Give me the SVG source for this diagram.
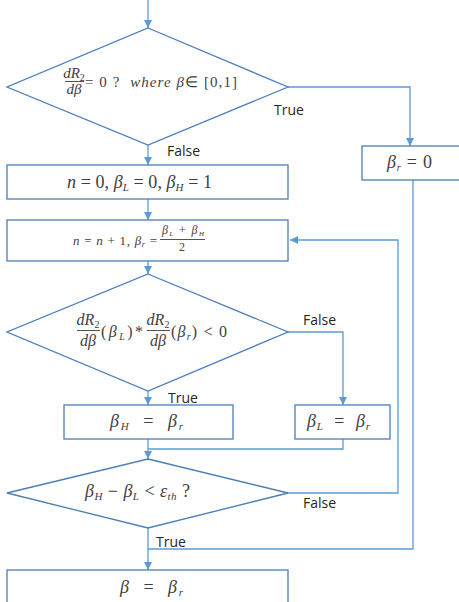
<svg xmlns="http://www.w3.org/2000/svg" width="459" height="602" viewBox="0 0 459 602">
<style>
.shape{fill:#fff;stroke:#4a7ebb;stroke-width:1.3}
.conn{fill:none;stroke:#5b9bd5;stroke-width:1.3}
.m{font-family:"Liberation Serif",serif;fill:#404040;white-space:pre}
.i{font-style:italic}
.lbl{font-family:"Open Sans","Liberation Sans",sans-serif;font-size:14px;fill:#262626}
.bar{stroke:#404040;stroke-width:0.9}
</style>
<defs>
<marker id="ah" viewBox="0 0 10 10" refX="10" refY="5" markerWidth="8" markerHeight="8" markerUnits="userSpaceOnUse" orient="auto">
<path d="M0,0 L10,5 L0,10 z" fill="#5b9bd5"/>
</marker>
</defs>
<rect width="459" height="602" fill="#fff"/>
<g id="connectors">
<path class="conn" d="M148,0 V28" marker-end="url(#ah)"/>
<path class="conn" d="M288,87 H410 V146" marker-end="url(#ah)"/>
<path class="conn" d="M148,145 V165" marker-end="url(#ah)"/>
<path class="conn" d="M148,199 V220" marker-end="url(#ah)"/>
<path class="conn" d="M148,261 V274" marker-end="url(#ah)"/>
<path class="conn" d="M288,332 H343 V405" marker-end="url(#ah)"/>
<path class="conn" d="M148,391 V405" marker-end="url(#ah)"/>
<path class="conn" d="M148,439 V459" marker-end="url(#ah)"/>
<path class="conn" d="M343,439 V449 H148"/>
<path class="conn" d="M288,493 H398 V240 H290" marker-end="url(#ah)"/>
<path class="conn" d="M148,528 V570" marker-end="url(#ah)"/>
<path class="conn" d="M413,180 V549 H148"/>
</g>
<g id="decision1">
<polygon class="shape" points="148,28 288,87 148,145 7,87"/>
<text class="m i" font-size="15" x="74" y="78" text-anchor="middle">dR<tspan font-size="10" dy="3" font-style="normal">2</tspan></text>
<line class="bar" x1="65" y1="81.5" x2="84" y2="81.5"/>
<text class="m i" font-size="15" x="74" y="94" text-anchor="middle">dβ</text>
<text class="m" font-size="15" x="85" y="87" textLength="152" lengthAdjust="spacing">= 0 ?  <tspan class="i">where β</tspan>∈ [0,1]</text>
</g>
<g id="box-br0">
<rect class="shape" x="362" y="146" width="98" height="34"/>
<text class="m" font-size="18" x="387" y="168" textLength="45" lengthAdjust="spacing"><tspan class="i">β</tspan><tspan class="i" font-size="10" dy="3">r</tspan><tspan dy="-3"> = 0</tspan></text>
</g>
<g id="box-init">
<rect class="shape" x="7" y="165" width="281" height="34"/>
<text class="m" font-size="18" x="67" y="188" textLength="145" lengthAdjust="spacing"><tspan class="i">n</tspan> = 0, <tspan class="i">β</tspan><tspan class="i" font-size="11" dy="3">L</tspan><tspan dy="-3"> = 0, </tspan><tspan class="i">β</tspan><tspan class="i" font-size="11" dy="3">H</tspan><tspan dy="-3"> = 1</tspan></text>
</g>
<g id="box-iter">
<rect class="shape" x="7" y="220" width="281" height="41"/>
<text class="m" font-size="13" x="73" y="245" textLength="84" lengthAdjust="spacing"><tspan class="i">n</tspan> = <tspan class="i">n</tspan> + 1, <tspan class="i">β</tspan><tspan class="i" font-size="8" dy="2">r</tspan><tspan dy="-2"> =</tspan></text>
<text class="m" font-size="12" x="162" y="234" textLength="42" lengthAdjust="spacing"><tspan class="i">β</tspan><tspan class="i" font-size="7" dy="1.5">L</tspan><tspan dy="-1.5"> + </tspan><tspan class="i">β</tspan><tspan class="i" font-size="7" dy="1.5">H</tspan></text>
<line class="bar" x1="160" y1="239.5" x2="205" y2="239.5"/>
<text class="m" font-size="12" x="182" y="251" text-anchor="middle">2</text>
</g>
<g id="decision2">
<polygon class="shape" points="148,274 288,332 148,391 7,332"/>
<text class="m i" font-size="16" x="88" y="325" text-anchor="middle">dR<tspan font-size="10" dy="3" font-style="normal">2</tspan></text>
<line class="bar" x1="77" y1="330.5" x2="100" y2="330.5"/>
<text class="m i" font-size="16" x="88" y="346" text-anchor="middle">dβ</text>
<text class="m" font-size="16" x="101" y="337" textLength="42" lengthAdjust="spacing">(<tspan class="i">β</tspan><tspan class="i" font-size="10" dy="3">L</tspan><tspan dy="-3">)*</tspan></text>
<text class="m i" font-size="16" x="158" y="325" text-anchor="middle">dR<tspan font-size="10" dy="3" font-style="normal">2</tspan></text>
<line class="bar" x1="147" y1="330.5" x2="170" y2="330.5"/>
<text class="m i" font-size="16" x="158" y="346" text-anchor="middle">dβ</text>
<text class="m" font-size="16" x="171" y="337" textLength="56" lengthAdjust="spacing">(<tspan class="i">β</tspan><tspan class="i" font-size="10" dy="3">r</tspan><tspan dy="-3">) &lt; 0</tspan></text>
</g>
<g id="box-bh">
<rect class="shape" x="64" y="405" width="169" height="34"/>
<text class="m" font-size="18" x="110" y="427" textLength="73" lengthAdjust="spacing"><tspan class="i">β</tspan><tspan class="i" font-size="11" dy="3">H</tspan><tspan dy="-3">  =  </tspan><tspan class="i">β</tspan><tspan class="i" font-size="11" dy="3">r</tspan></text>
</g>
<g id="box-bl">
<rect class="shape" x="295" y="405" width="95" height="34"/>
<text class="m" font-size="18" x="307" y="427" textLength="63" lengthAdjust="spacing"><tspan class="i">β</tspan><tspan class="i" font-size="11" dy="3">L</tspan><tspan dy="-3">  =  </tspan><tspan class="i">β</tspan><tspan class="i" font-size="11" dy="3">r</tspan></text>
</g>
<g id="decision3">
<polygon class="shape" points="148,459 288,493 148,528 7,493"/>
<text class="m" font-size="18" x="85" y="497" textLength="105" lengthAdjust="spacing"><tspan class="i">β</tspan><tspan class="i" font-size="11" dy="3">H</tspan><tspan dy="-3"> − </tspan><tspan class="i">β</tspan><tspan class="i" font-size="11" dy="3">L</tspan><tspan dy="-3"> &lt; </tspan><tspan class="i">ε</tspan><tspan class="i" font-size="11" dy="3">th</tspan><tspan dy="-3"> ?</tspan></text>
</g>
<g id="box-final">
<rect class="shape" x="7" y="570" width="281" height="36"/>
<text class="m" font-size="18" x="120" y="593" textLength="63" lengthAdjust="spacing"><tspan class="i">β</tspan>  =  <tspan class="i">β</tspan><tspan class="i" font-size="11" dy="3">r</tspan></text>
</g>
<g id="labels">
<text class="lbl" x="274" y="115">True</text>
<text class="lbl" x="167" y="156">False</text>
<text class="lbl" x="303" y="325">False</text>
<text class="lbl" x="168" y="403">True</text>
<text class="lbl" x="303" y="508">False</text>
<text class="lbl" x="156" y="547">True</text>
</g>
</svg>
